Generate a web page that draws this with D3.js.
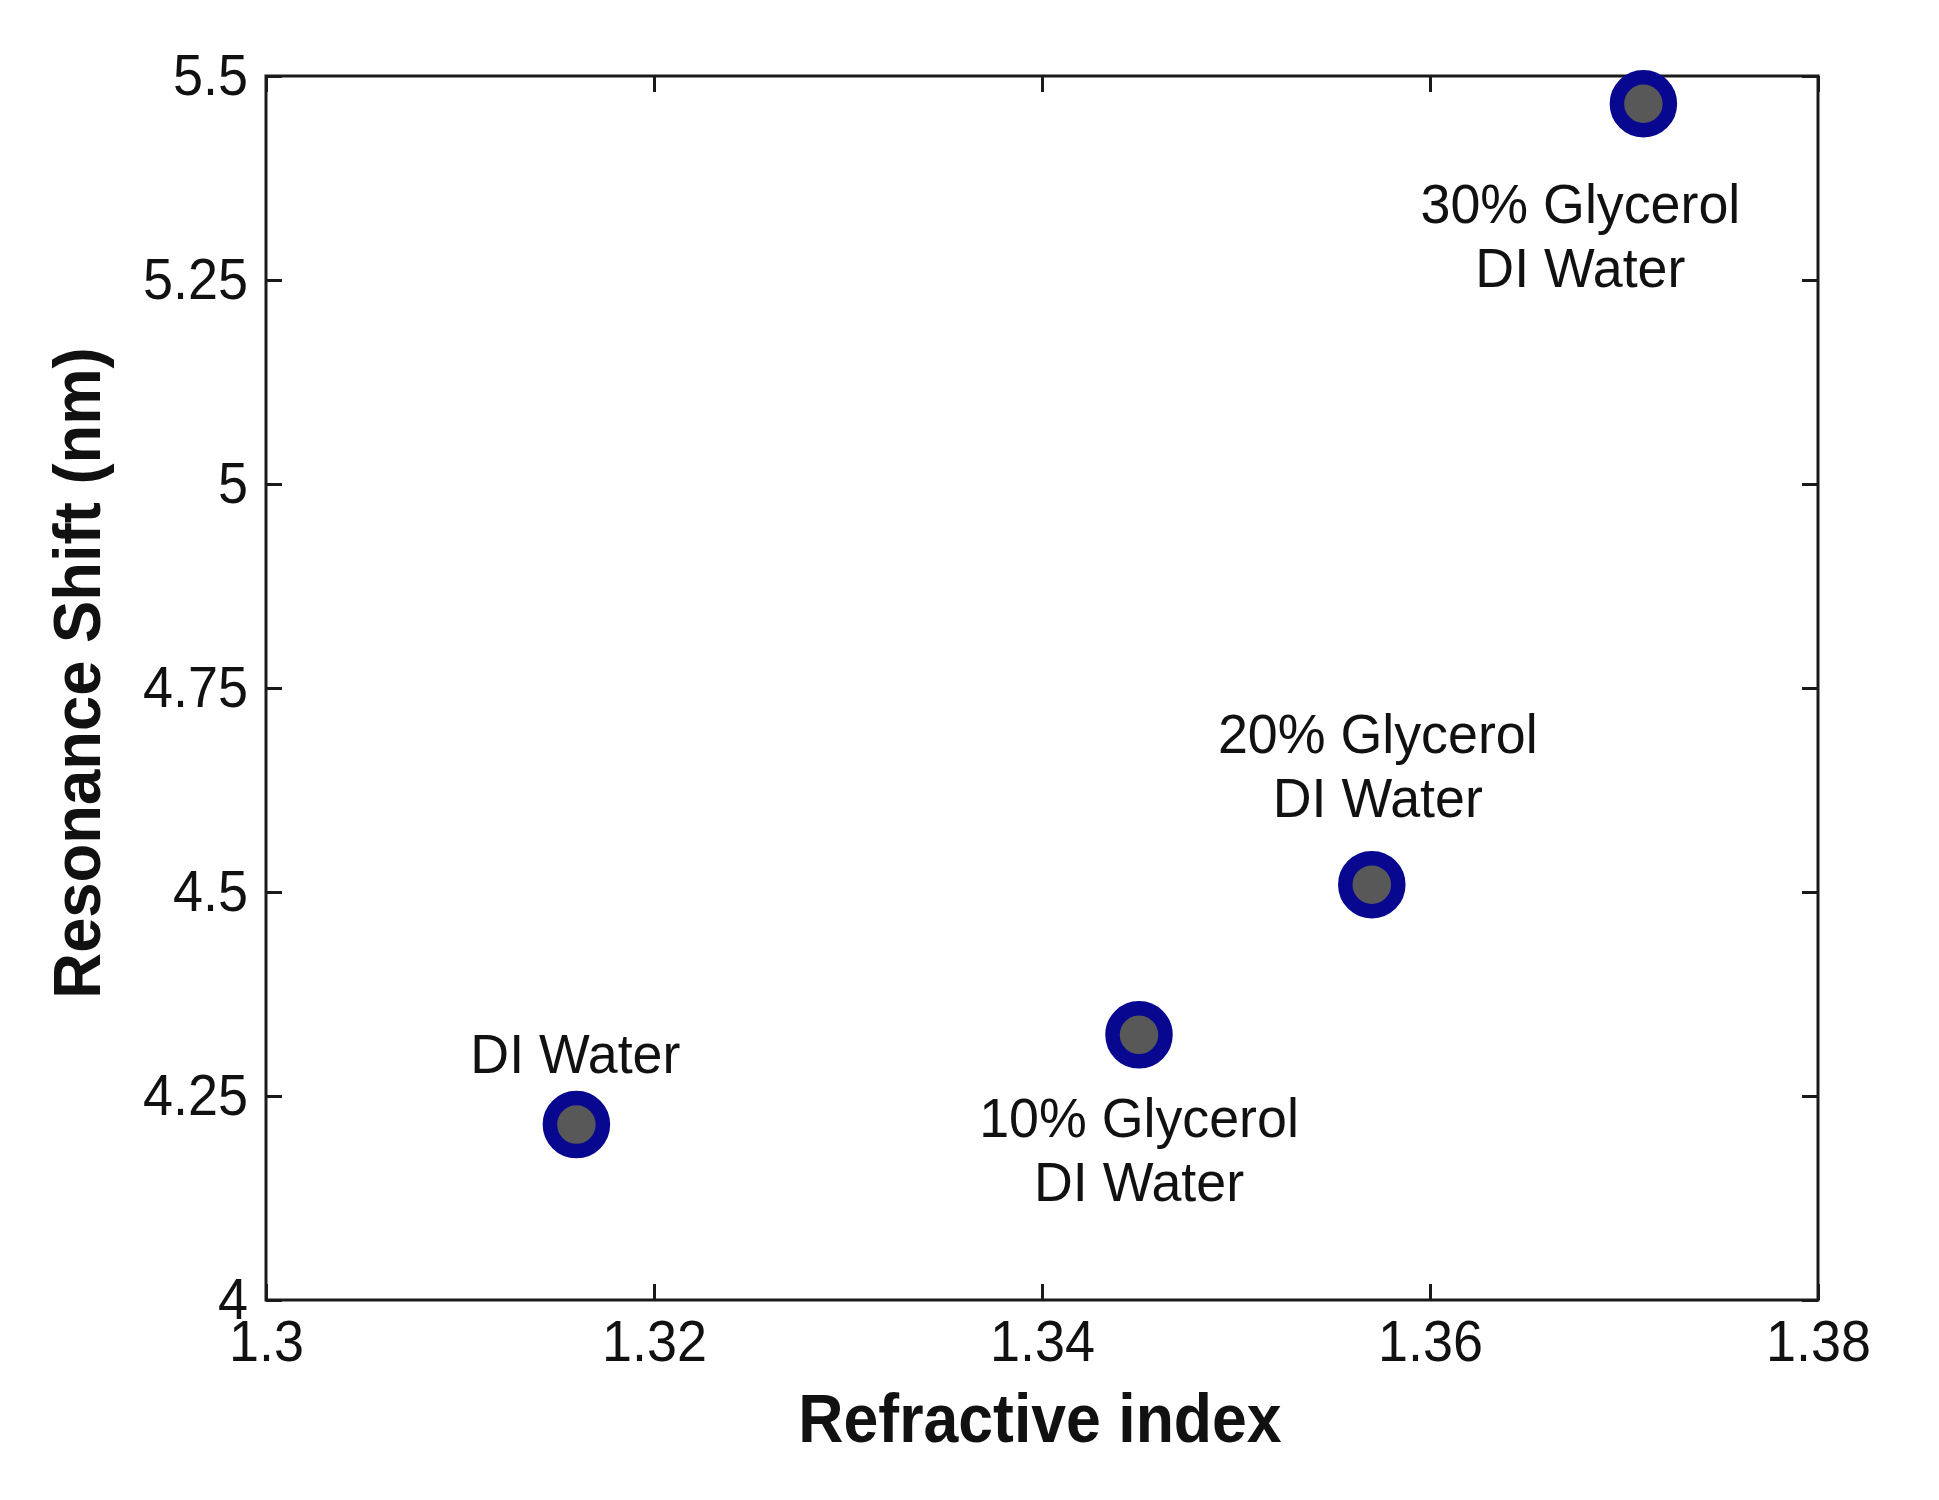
<!DOCTYPE html>
<html>
<head>
<meta charset="utf-8">
<script src="https://cdn.jsdelivr.net/npm/d3@7"></script>
<style>
  html, body { margin: 0; padding: 0; background: #fff; }
  svg { display: block; }
  text { font-family: "Liberation Sans", Arial, Helvetica, sans-serif; fill: #111; }
</style>
</head>
<body>
<svg id="chart" width="1939" height="1500"></svg>
<script>
// ---- data ----
const refractiveIndex = [1.316, 1.345, 1.357, 1.371];
const resonanceShift  = [4.215, 4.325, 4.509, 5.466];
const sampleLabels = [
  ["DI Water"],
  ["10% Glycerol", "DI Water"],
  ["20% Glycerol", "DI Water"],
  ["30% Glycerol", "DI Water"]
];
const xTicks = [1.3, 1.32, 1.34, 1.36, 1.38];
const yTicks = [4, 4.25, 4.5, 4.75, 5, 5.25, 5.5];
const xDomain = [1.3, 1.38];
const yDomain = [4, 5.5];
const xTitle = "Refractive index";
const yTitle = "Resonance Shift (nm)";

// ---- layout ----
const W = 1939, H = 1500;
const plot = { left: 266, right: 1818, top: 76, bottom: 1300 };
// label placement relative to its point (pixels): dx, baseline dy of first line
const labelPlacement = [
  { dx: -1, dy: -52 },
  { dx: 0, dy: 102 },
  { dx: 6, dy: -132 },
  { dx: -63, dy: 119 }
];
const lineGap = 64;

const svg = d3.select("#chart");
svg.append("rect").attr("width", W).attr("height", H).attr("fill", "#fff");

const x = d3.scaleLinear().domain(xDomain).range([plot.left, plot.right]);
const y = d3.scaleLinear().domain(yDomain).range([plot.bottom, plot.top]);

const tickLen = 16;
const axisColor = "#1a1a1a";
const axisWidth = 3;

function styleAxis(g) {
  g.select(".domain").remove();
  g.selectAll(".tick line").attr("stroke", axisColor).attr("stroke-width", axisWidth);
  g.selectAll(".tick text")
    .attr("fill", "#111")
    .style("font-size", "58px")
    .style("font-family", '"Liberation Sans", Arial, sans-serif');
}

const fmt = d => String(+d.toFixed(2));

svg.append("g")
  .attr("transform", `translate(0,${plot.bottom})`)
  .call(d3.axisBottom(x).tickValues(xTicks).tickSize(-tickLen).tickPadding(20).tickFormat(fmt))
  .call(styleAxis)
  .attr("class", "ticklabels");

svg.append("g")
  .attr("transform", `translate(0,${plot.top})`)
  .call(d3.axisTop(x).tickValues(xTicks).tickSize(-tickLen).tickFormat(""))
  .call(styleAxis);

svg.append("g")
  .attr("transform", `translate(${plot.left},0)`)
  .call(d3.axisLeft(y).tickValues(yTicks).tickSize(-tickLen).tickPadding(18).tickFormat(fmt))
  .call(styleAxis)
  .attr("class", "ticklabels");

svg.append("g")
  .attr("transform", `translate(${plot.right},0)`)
  .call(d3.axisRight(y).tickValues(yTicks).tickSize(-tickLen).tickFormat(""))
  .call(styleAxis);

// box
svg.append("rect")
  .attr("x", plot.left).attr("y", plot.top)
  .attr("width", plot.right - plot.left).attr("height", plot.bottom - plot.top)
  .attr("fill", "none").attr("stroke", axisColor).attr("stroke-width", axisWidth);

// axis titles
svg.append("text")
  .attr("class", "title")
  .attr("x", 1040).attr("y", 1442)
  .attr("text-anchor", "middle")
  .style("font-size", "68px").style("font-weight", "bold")
  .text(xTitle);

svg.append("text")
  .attr("class", "title ytitle")
  .attr("transform", "translate(100,673) rotate(-90)")
  .attr("text-anchor", "middle")
  .style("font-size", "66px").style("font-weight", "bold")
  .text(yTitle);

// points
const pts = refractiveIndex.map((v, i) => ({ x: v, y: resonanceShift[i], label: sampleLabels[i], place: labelPlacement[i] }));

svg.append("g").selectAll("circle")
  .data(pts).join("circle")
  .attr("cx", d => x(d.x)).attr("cy", d => y(d.y))
  .attr("r", 26.5)
  .attr("fill", "#585858")
  .attr("stroke", "#07078f")
  .attr("stroke-width", 14.5);

// labels
const lg = svg.append("g");
pts.forEach(d => {
  const t = lg.append("text")
    .attr("class", "annot")
    .attr("text-anchor", "middle")
    .style("font-size", "56px");
  d.label.forEach((line, j) => {
    t.append("tspan")
      .attr("x", x(d.x) + d.place.dx)
      .attr("y", y(d.y) + d.place.dy + j * lineGap)
      .text(line);
  });
});

// slight horizontal condensation to match the narrow rendering of the original
function condense(sel, f) {
  sel.each(function () {
    const len = this.getComputedTextLength();
    d3.select(this).attr("textLength", len * f).attr("lengthAdjust", "spacingAndGlyphs");
  });
}
condense(svg.selectAll(".ticklabels .tick text"), 0.93);
condense(svg.selectAll(".annot tspan"), 0.96);
condense(svg.selectAll("text.title").filter(function(){ return !this.classList.contains("ytitle"); }), 0.92);
condense(svg.selectAll("text.ytitle"), 0.96);
</script>
</body>
</html>
